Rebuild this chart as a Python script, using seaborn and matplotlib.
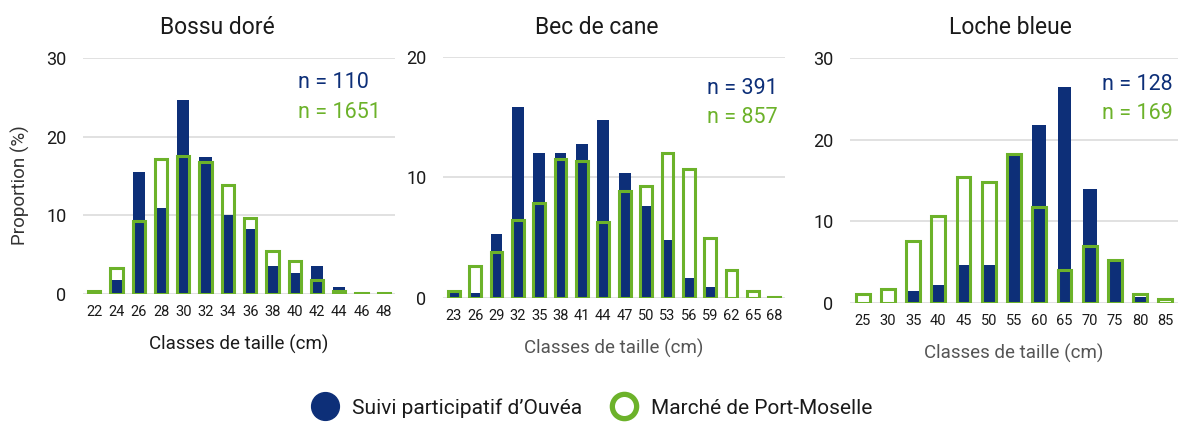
"""
Distribution des classes de taille : Ouvéa vs marché de Port-Moselle.
"""
import matplotlib
matplotlib.use("Agg")
import matplotlib.pyplot as plt
from matplotlib.lines import Line2D
import seaborn as sns

# Données (proportion en %)
bossu_classes = ["22", "24", "26", "28", "30", "32", "34", "36", "38", "40", "42", "44", "46", "48"]
bossu_ouvea = [0, 1.8, 15.5, 10.9, 24.7, 17.4, 10.0, 8.2, 3.6, 2.7, 3.6, 0.85, 0, 0]
bossu_marche = [0.4, 3.3, 9.3, 17.2, 17.6, 16.8, 13.8, 9.7, 5.5, 4.15, 1.8, 0.35, 0.1, 0.1]

bec_classes = ["23", "26", "29", "32", "35", "38", "41", "44", "47", "50", "53", "56", "59", "62", "65", "68"]
bec_ouvea = [0.4, 0.4, 5.3, 15.85, 12.0, 12.0, 12.75, 14.8, 10.4, 7.6, 4.8, 1.7, 0.9, 0, 0, 0]
bec_marche = [0.55, 2.65, 3.8, 6.5, 7.9, 11.5, 11.4, 6.3, 8.9, 9.3, 12.0, 10.7, 5.0, 2.3, 0.55, 0.1]

loche_classes = ["25", "30", "35", "40", "45", "50", "55", "60", "65", "70", "75", "80", "85"]
loche_ouvea = [0, 0, 1.5, 2.25, 4.6, 4.6, 18.0, 21.8, 26.5, 14.0, 5.2, 0.7, 0]
loche_marche = [1.1, 1.75, 7.6, 10.7, 15.4, 14.8, 18.3, 11.8, 4.1, 7.0, 5.3, 1.1, 0.5]

titles = ["Bossu doré", "Bec de cane", "Loche bleue"]
n_ouvea = [110, 391, 128]
n_marche = [1651, 857, 169]
y_max = [30, 20, 30]

BLEU = "#0d2f78"
VERT = "#6cb22a"
GRILLE = "#dcdcdc"

W, H = 1179, 423

sns.set_theme(style="white")
plt.rcParams["font.family"] = ["Roboto", "DejaVu Sans"]

fig = plt.figure(figsize=(W / 100, H / 100), dpi=100)


def px(x0, y0, x1, y1):
    # rectangle en pixels -> coordonnées de figure
    return [x0 / W, 1 - y1 / H, (x1 - x0) / W, (y1 - y0) / H]


# positions des axes (pixels: gauche, haut, droite, bas)
boxes = [(83, 58, 395, 294), (443, 57, 785, 298), (850, 58, 1178, 303)]
title_x = [217, 597, 1010]
n_x = [298, 707, 1102]
n_y = [(83, 112), (88, 117), (85, 113)]
xlabel_colors = ["#1a1a1a", "#555555", "#555555"]

series = [
    (bossu_classes, bossu_ouvea, bossu_marche),
    (bec_classes, bec_ouvea, bec_marche),
    (loche_classes, loche_ouvea, loche_marche),
]

for i, (classes, ouvea, marche) in enumerate(series):
    ax = fig.add_axes(px(*boxes[i]))
    sns.barplot(x=classes, y=ouvea, order=classes, color=BLEU, width=0.55,
                saturation=1, linewidth=0, ax=ax)
    sns.barplot(x=classes, y=marche, order=classes, color=VERT, width=0.55,
                saturation=1, fill=False, linewidth=2.2, ax=ax)
    ax.set_ylim(0, y_max[i])
    ax.set_yticks(range(0, y_max[i] + 1, 10))
    ax.set_xlim(-0.5, len(classes) - 0.5)
    ax.yaxis.grid(True, color=GRILLE, linewidth=1.2)
    ax.set_axisbelow(True)
    sns.despine(ax=ax, left=True, bottom=True)
    ax.tick_params(axis="x", length=0, pad=8, labelsize=10.5, labelcolor="#1a1a1a")
    ax.tick_params(axis="y", length=0, pad=12, labelsize=13, labelcolor="#1a1a1a")
    ax.set_xlabel("Classes de taille (cm)", fontsize=13.5, color=xlabel_colors[i], labelpad=11)
    ax.set_ylabel("")

    fig.text(title_x[i] / W, 1 - 27 / H, titles[i], ha="center", va="center",
             fontsize=16.5, color="#1a1a1a")
    fig.text(n_x[i] / W, 1 - n_y[i][0] / H, f"n = {n_ouvea[i]}", ha="left", va="center",
             fontsize=15.5, color=BLEU)
    fig.text(n_x[i] / W, 1 - n_y[i][1] / H, f"n = {n_marche[i]}", ha="left", va="center",
             fontsize=15.5, color=VERT)

fig.text(20 / W, 1 - 185 / H, "Proportion (%)", rotation=90, ha="center", va="center",
         fontsize=13.5, color="#333333")

handles = [
    Line2D([], [], marker="o", linestyle="none", markersize=20, markerfacecolor=BLEU,
           markeredgecolor=BLEU, label="Suivi participatif d’Ouvéa"),
    Line2D([], [], marker="o", linestyle="none", markersize=17.5, markerfacecolor="white",
           markeredgecolor=VERT, markeredgewidth=3.8, label="Marché de Port-Moselle"),
]
fig.legend(handles=handles, loc="center", bbox_to_anchor=(588 / W, 1 - 408 / H), ncol=2,
           frameon=False, fontsize=15, handletextpad=0.3, columnspacing=1.0,
           labelcolor="#1a1a1a")

fig.savefig("out.png", dpi=100, facecolor="white")
